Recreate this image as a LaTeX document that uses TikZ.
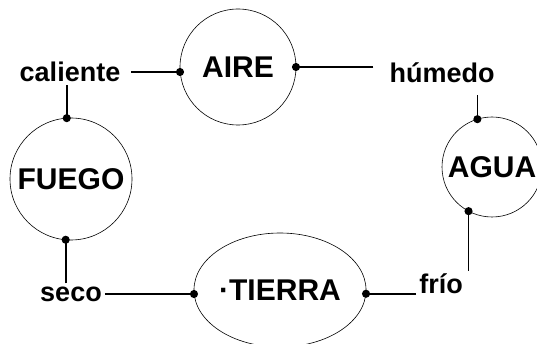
\documentclass[tikz,border=0pt]{standalone}
\usepackage{fontspec}
\setmainfont{Liberation Sans}
\usetikzlibrary{positioning,
        shapes.geometric,
        arrows.meta}

\begin{document}
\begin{tikzpicture}[x=1pt,y=-1pt,
        element/.style={circle,draw,line width=0.6pt,outer sep=0pt,inner sep=0pt,
                font=\fontsize{30}{36}\selectfont\bfseries},
        quality/.style={inner sep=3pt,font=\fontsize{27}{32}\selectfont\bfseries},
        link/.style={line width=1.7pt,-{Circle[length=8pt]},shorten >=-4pt}]
        \clip (0,0) rectangle (537,344);

        \node [element,minimum size=116pt] (aire) at (238,67) {AIRE};
        \node [element,minimum size=122pt] (fuego) at (71,179) {FUEGO};
        \node [element,minimum size=100pt] (agua) at (492,167) {AGUA};
        \node [element,ellipse,minimum width=170pt,minimum height=114pt] (tierra) at (280,290) {·TIERRA};

        \node [quality] (caliente) at (70,72) {caliente};
        \node [quality] (humedo) at (442,73) {húmedo};
        \node [quality] (seco) at (71,294) {seco};
        \node [quality] (frio) at (441,284) {frío};

        \draw [link,shorten <=8pt] (caliente.east) -- (caliente.east -| aire.west);
        \draw [link] (fuego.94 |- caliente.south) -- (fuego.94);
        \draw [link,shorten <=13pt] (aire.east -| humedo.west) -- (aire.east);
        \draw [link,shorten <=9pt] (agua.107 |- humedo.south) -- (agua.107);
        \draw [link] (agua.242 |- frio.north) -- (agua.242);
        \draw [link] (frio.base west) -- (frio.base west -| tierra.east);
        \draw [link] (seco.east) -- (seco.east -| tierra.west);
        \draw [link] (fuego.265 |- seco.north) -- (fuego.265);
\end{tikzpicture}
\end{document}
